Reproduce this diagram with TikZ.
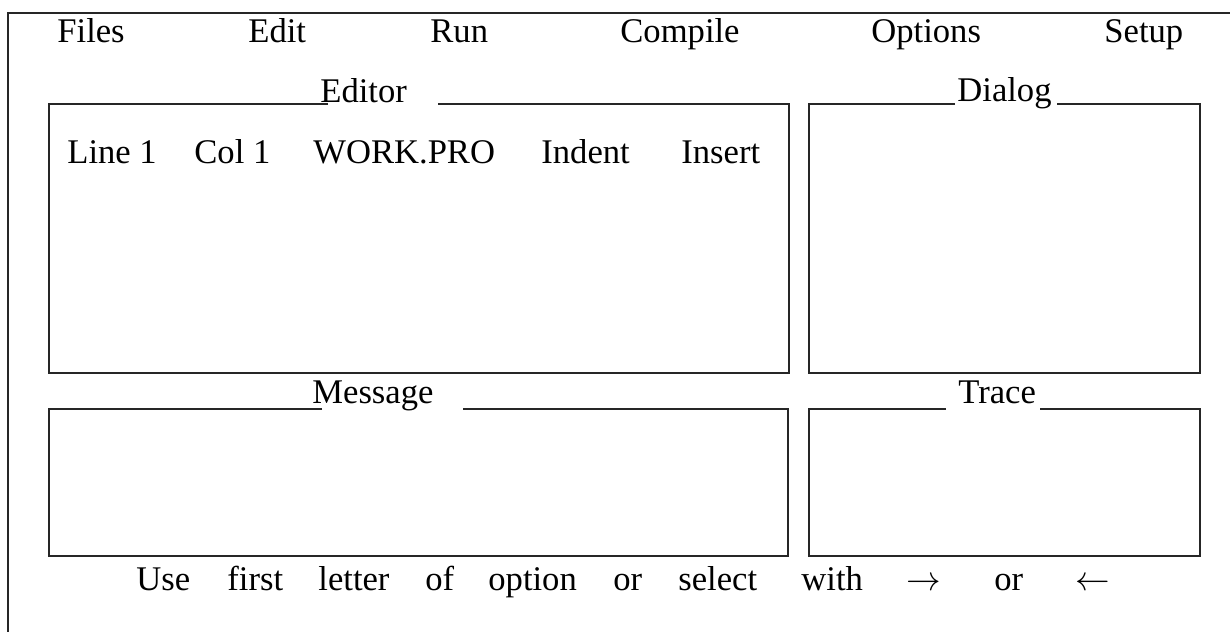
\documentclass[tikz,border=0pt]{standalone}
\usepackage{fontspec}
\setmainfont{Liberation Serif}
\usepackage{tikz}
\usetikzlibrary{positioning}

\tikzset{
    txt/.style={anchor=base west, inner sep=0pt, font=\fontsize{17.3}{20}\selectfont},
    frame/.style={line width=1pt, draw=black!85}
}

\begin{document}
\begin{tikzpicture}[x=0.5pt, y=-0.5pt]
    \useasboundingbox (0,0) rectangle (1230,632);
    % Screen border
    \draw[frame] (1230,13) -- (8,13) -- (8,632);

    % Menu bar
    \node[txt] (files) at (57,42) {Files};
    \node[txt] (edit) at (248,42) {Edit};
    \node[txt] (run) at (430,42) {Run};
    \node[txt] (compile) at (620,42) {Compile};
    \node[txt] (options) at (871,42) {Options};
    \node[txt] (setup) at (1104,42) {Setup};

    % Editor window
    \node[txt] (editor) at (320,102) {Editor};
    \draw[frame] (328,104) -- (49,104) -- (49,373) -- (789,373) -- (789,104) -- (438,104);
    \node[txt] (line) at (67,163) {Line 1};
    \node[txt] (col) at (194,163) {Col 1};
    \node[txt] (work) at (313,163) {WORK.PRO};
    \node[txt] (indent) at (541,163) {Indent};
    \node[txt] (insert) at (681,163) {Insert};

    % Dialog window
    \node[txt] (dialog) at (957,101) {Dialog};
    \draw[frame] (955,104) -- (809,104) -- (809,373) -- (1200,373) -- (1200,104) -- (1057,104);

    % Message window
    \node[txt] (message) at (312,403) {Message};
    \draw[frame] (322,409) -- (49,409) -- (49,556) -- (788,556) -- (788,409) -- (463,409);

    % Trace window
    \node[txt] (trace) at (958,403) {Trace};
    \draw[frame] (946,409) -- (809,409) -- (809,556) -- (1200,556) -- (1200,409) -- (1040,409);

    % Help line
    \foreach \w/\x in {Use/136, first/227, letter/318, of/425, option/488, or/613, select/678, with/801, $\rightarrow$/906, or/994, $\leftarrow$/1075}
        \node[txt] at (\x,590) {\w};
\end{tikzpicture}
\end{document}
